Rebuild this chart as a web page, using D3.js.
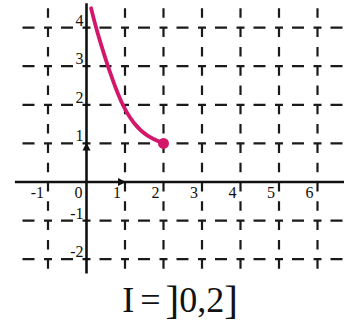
<!DOCTYPE html>
<html>
<head>
<meta charset="utf-8">
<script src="https://cdn.jsdelivr.net/npm/d3@7"></script>
<style>
  body { margin: 0; background: #fff; }
  svg { display: block; }
  text { font-family: "Liberation Serif", "Times New Roman", serif; fill: #111; }
</style>
</head>
<body>
<div id="chart"></div>
<script>
// values
const xTicks = [-1, 1, 2, 3, 4, 5, 6];
const xLabels = ["-1", "1", "2", "3", "4", "5", "6"];
const yTicks = [4, 3, 2, 1, -1, -2];
const yLabels = ["4", "3", "2", "1", "-1", "-2"];
const curveX = [0.12, 0.24, 0.35, 0.55, 0.91, 1.23, 1.57, 2];
const curveY = [4.5, 4.02, 3.65, 3.0, 2.0, 1.5, 1.18, 1.0];
const endPoint = [2, 1];
const titleParts = ["I", "=", "]", "0,2", "]"];

const width = 344, height = 323;
const xMin = -1.86, xMax = 6.7;
const yMin = -2.42, yMax = 4.6;

const x = d3.scaleLinear().domain([0, 1]).range([86.5, 125]);
const y = d3.scaleLinear().domain([0, 1]).range([182, 143.4]);
const unitX = x(1) - x(0);
const unitY = y(0) - y(1);

const svg = d3.select("#chart").append("svg")
  .attr("width", width)
  .attr("height", height);

const gridColor = "#1a1a1a";

// horizontal dashed grid lines
const hPattern = [8, 9, 12, unitX - 29];
const hStart = x(xMin);
const hPhase = (((hStart - (x(-2) - 4)) % unitX) + unitX) % unitX;
svg.append("g").selectAll("line")
  .data(yTicks)
  .enter()
  .append("line")
  .attr("x1", x(xMin))
  .attr("x2", x(xMax))
  .attr("y1", d => y(d))
  .attr("y2", d => y(d))
  .attr("stroke", gridColor)
  .attr("stroke-width", 2.2)
  .attr("stroke-dasharray", hPattern.join(" "))
  .attr("stroke-dashoffset", hPhase);

// vertical dashed grid lines
const vPeriod = unitY / 2;
const vStart = y(yMax);
const vPhase = (((vStart - y(5)) % vPeriod) + vPeriod) % vPeriod;
svg.append("g").selectAll("line")
  .data(xTicks)
  .enter()
  .append("line")
  .attr("x1", d => x(d))
  .attr("x2", d => x(d))
  .attr("y1", y(yMax))
  .attr("y2", y(yMin))
  .attr("stroke", gridColor)
  .attr("stroke-width", 2.2)
  .attr("stroke-dasharray", "9.5 " + (vPeriod - 9.5))
  .attr("stroke-dashoffset", vPhase);

// axes
svg.append("line")
  .attr("x1", x(xMin)).attr("x2", x(xMax))
  .attr("y1", y(0)).attr("y2", y(0))
  .attr("stroke", "#111").attr("stroke-width", 2.6);
svg.append("line")
  .attr("x1", x(0)).attr("x2", x(0))
  .attr("y1", y(4.63)).attr("y2", y(-2.37))
  .attr("stroke", "#111").attr("stroke-width", 2.6);

// unit vector arrow heads
svg.append("path")
  .attr("d", `M${x(1) + 1},${y(0)} l-8,-4 l0,8 z`)
  .attr("fill", "#111");
svg.append("path")
  .attr("d", `M${x(0)},${y(1) - 1} l-4,8 l8,0 z`)
  .attr("fill", "#111");

// tick labels
svg.append("g").selectAll("text")
  .data(xTicks)
  .enter()
  .append("text")
  .attr("x", d => x(d) - 4)
  .attr("y", y(0) + 16)
  .attr("text-anchor", "end")
  .attr("font-size", 16)
  .text((d, i) => xLabels[i]);

svg.append("text")
  .attr("x", x(0) - 4)
  .attr("y", y(0) + 16)
  .attr("text-anchor", "end")
  .attr("font-size", 16)
  .text("0");

svg.append("g").selectAll("text")
  .data(yTicks)
  .enter()
  .append("text")
  .attr("x", x(0) - 3)
  .attr("y", d => y(d) - 2)
  .attr("text-anchor", "end")
  .attr("font-size", 16)
  .text((d, i) => yLabels[i]);

// the curve
const pts = curveX.map((v, i) => [v, curveY[i]]);
const line = d3.line()
  .x(d => x(d[0]))
  .y(d => y(d[1]))
  .curve(d3.curveBasis);

svg.append("path")
  .datum(pts)
  .attr("d", line)
  .attr("fill", "none")
  .attr("stroke", "#d3176b")
  .attr("stroke-width", 3.8)
  .attr("stroke-linecap", "round");

svg.append("circle")
  .attr("cx", x(endPoint[0]))
  .attr("cy", y(endPoint[1]))
  .attr("r", 5.5)
  .attr("fill", "#d3176b");

// interval caption
const title = svg.append("text")
  .attr("x", 180)
  .attr("y", 312)
  .attr("text-anchor", "middle")
  .attr("font-size", 36);
title.append("tspan").text(titleParts[0]);
title.append("tspan").attr("dx", 6).text(titleParts[1]);
title.append("tspan").attr("dx", 5).attr("font-size", 41).attr("dy", 2).text(titleParts[2]);
title.append("tspan").attr("dy", -2).text(titleParts[3]);
title.append("tspan").attr("font-size", 41).attr("dy", 2).text(titleParts[4]);
</script>
</body>
</html>
